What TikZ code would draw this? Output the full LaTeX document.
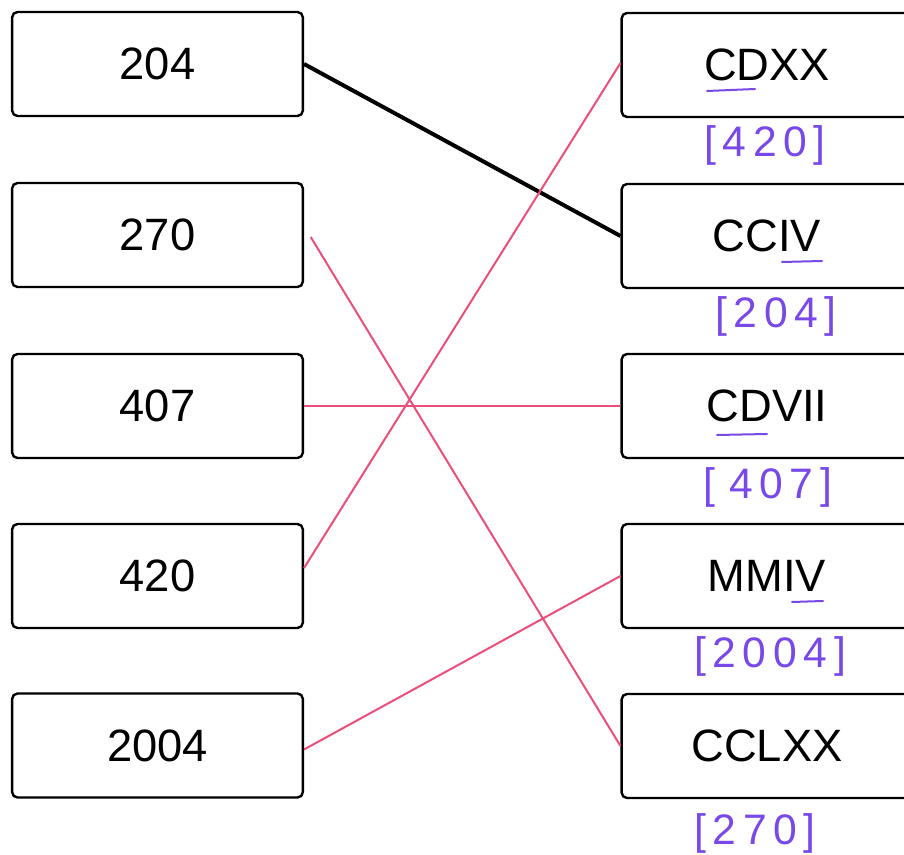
\documentclass[tikz,border=0pt]{standalone}
\usepackage{fontspec}
\setmainfont{Liberation Sans}
\definecolor{matchpink}{RGB}{236,78,122}
\definecolor{penpurple}{RGB}{120,72,232}
\newcommand{\pengap}{\hspace{5pt}}

\tikzset{every picture/.style={line width=0.75pt}}
\tikzset{
	numbox/.style={draw, line width=1.8pt, rounded corners=4pt, minimum width=218pt, minimum height=78pt, inner sep=0pt, font=\fontsize{34}{40}\selectfont},
	matchline/.style={draw=matchpink, line width=1.5pt},
	penline/.style={draw=penpurple, line width=1.5pt, line cap=round},
	pentext/.style={text=penpurple, font=\fontsize{32}{36}\selectfont}
}

\begin{document}
\begin{tikzpicture}[x=0.75pt,y=0.75pt,yscale=-1,xscale=1]
	\useasboundingbox (0,0) rectangle (904,855);
	\clip (0,0) rectangle (904,855);

	% Left column
	\draw (157.5,64) node [numbox] (l1) {204};
	\draw (157.5,235) node [numbox] (l2) {270};
	\draw (157.5,406) node [numbox] (l3) {407};
	\draw (157.5,576) node [numbox] (l4) {420};
	\draw (157.5,745.5) node [numbox] (l5) {2004};

	% Right column
	\draw (767,65) node [numbox] (r1) {CDXX};
	\draw (767,236) node [numbox] (r2) {CCIV};
	\draw (767,406) node [numbox] (r3) {CDVII};
	\draw (767,576) node [numbox] (r4) {MMIV};
	\draw (767,746) node [numbox] (r5) {CCLXX};

	% Straight Lines
	\draw [line width=3pt] (l1.east) -- (r2.west) ;
	\draw [matchline] ([xshift=5pt,yshift=1.5pt]l2.east) -- (r5.west) ;
	\draw [matchline] (l3.east) -- (r3.west) ;
	\draw [matchline] ([yshift=-6pt]l4.east) -- ([yshift=-1.5pt]r1.west) ;
	\draw [matchline] ([yshift=3pt]l5.east) -- (r4.west) ;

	% Pen underlines
	\draw [penline] (707,91) -- (755,89) ;
	\draw [penline] (782,262) -- (822,261) ;
	\draw [penline] (717,435) -- (767,434) ;
	\draw [penline] (792,602) -- (823,601) ;

	% Text Node
	\draw (765,145) node [pentext] (a1) {[\pengap 4\pengap 2\pengap 0\pengap ]};
	% Text Node
	\draw (776,316) node [pentext] (a2) {[\pengap 2\pengap 0\pengap 4\pengap ]};
	% Text Node
	\draw (768,487) node [pentext] (a3) {[\pengap\pengap 4\pengap 0\pengap 7\pengap ]};
	% Text Node
	\draw (770,656) node [pentext] (a4) {[\pengap 2\pengap 0\pengap 0\pengap 4\pengap ]};
	% Text Node
	\draw (755,833) node [pentext] (a5) {[\pengap 2\pengap 7\pengap 0\pengap ]};

\end{tikzpicture}
\end{document}
